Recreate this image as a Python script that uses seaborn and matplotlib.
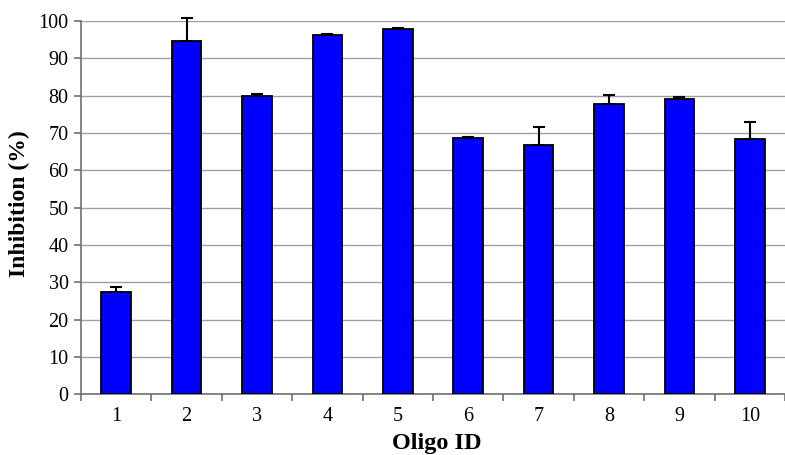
import numpy as np
import pandas as pd
import matplotlib
matplotlib.use("Agg")
import matplotlib.pyplot as plt
import seaborn as sns

oligo_ids = ["1", "2", "3", "4", "5", "6", "7", "8", "9", "10"]
inhibition = [27.5, 94.5, 80.0, 96.2, 97.9, 68.6, 66.8, 77.8, 79.1, 68.4]
err_upper = [1.2, 6.4, 0.4, 0.4, 0.3, 0.4, 4.8, 2.3, 0.4, 4.4]

df = pd.DataFrame({"Oligo ID": oligo_ids, "Inhibition": inhibition})

sns.set_style("white")
plt.rcParams["font.family"] = ["Liberation Serif", "DejaVu Serif"]
plt.rcParams["text.color"] = "black"
plt.rcParams["axes.labelcolor"] = "black"

fig = plt.figure(figsize=(7.85, 4.55), dpi=100)
ax = fig.add_axes([81 / 785, 0.1334, 1 - 81 / 785, 0.954 - 0.1334])

sns.barplot(data=df, x="Oligo ID", y="Inhibition", color="#0000ff",
            saturation=1, width=0.42, edgecolor="black", linewidth=1.3,
            errorbar=None, ax=ax, zorder=3)

xs = np.arange(len(oligo_ids))
eb = ax.errorbar(xs, inhibition, yerr=[np.zeros(len(err_upper)), err_upper],
                 fmt="none", ecolor="black", elinewidth=1.5, capsize=4,
                 capthick=1.5, zorder=2)
for art in eb.lines[1] + eb.lines[2]:
    art.set_clip_on(False)

ax.set_ylim(0, 100)
ax.set_xlim(-0.5, 9.415)
ax.set_yticks(range(0, 101, 10))
ax.yaxis.grid(True, color="#a0a0a0", linewidth=1)
ax.set_axisbelow(True)

for s in ["top", "right"]:
    ax.spines[s].set_visible(False)
for s in ["left", "bottom"]:
    ax.spines[s].set_color("#707070")
    ax.spines[s].set_linewidth(1.2)

ax.set_xticks(xs, minor=False)
ax.set_xticks(np.arange(-0.5, 10, 1), minor=True)
ax.tick_params(axis="x", which="major", length=0, labelsize=14.5, pad=9,
               labelcolor="black")
ax.tick_params(axis="x", which="minor", length=5, color="#707070", width=1.2,
               direction="out", bottom=True)
ax.tick_params(axis="y", length=5, color="#707070", width=1.2,
               direction="out", left=True, labelsize=14.5, pad=4,
               labelcolor="black")

ax.set_xlabel("Oligo ID", fontsize=17.5, fontweight="bold")
ax.set_ylabel("Inhibition (%)", fontsize=17, fontweight="bold")
ax.xaxis.set_label_coords(0.505, -0.104)
ax.yaxis.set_label_coords(-0.072, 0.51)

fig.savefig("out.png", dpi=100)
